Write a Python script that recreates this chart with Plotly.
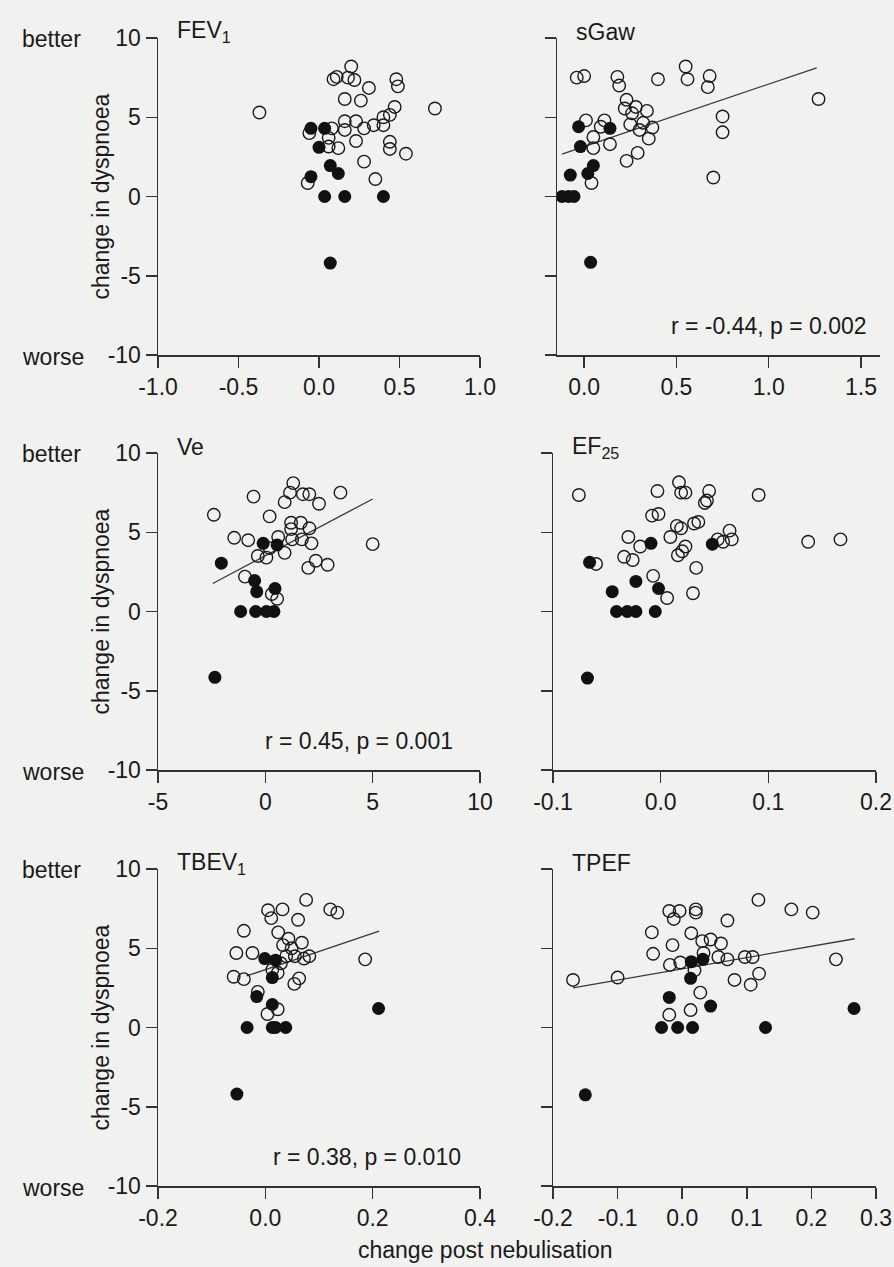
import plotly.graph_objects as go

# ---------------- data ----------------
# FEV1
fev_open_x = [-0.37, 0.20, 0.09, 0.11, 0.18, 0.22, 0.31, 0.48, 0.49, 0.16, 0.26, 0.47, 0.72, 0.44, 0.40, 0.40, 0.34,
              0.28, 0.23, 0.16, 0.16, 0.08, 0.06, 0.06, 0.12, 0.23, -0.06, 0.44, 0.44, 0.54, 0.28, 0.35, -0.07]
fev_open_y = [5.3, 8.2, 7.4, 7.55, 7.5, 7.35, 6.85, 7.4, 6.95, 6.15, 6.05, 5.65, 5.55, 5.15, 5.0, 4.5, 4.5,
              4.3, 4.75, 4.75, 4.2, 4.3, 3.7, 3.15, 3.05, 3.5, 4.0, 3.45, 3.0, 2.7, 2.2, 1.1, 0.85]
fev_fill_x = [-0.05, 0.035, 0.0, 0.07, 0.12, -0.05, 0.035, 0.16, 0.40, 0.07]
fev_fill_y = [4.3, 4.3, 3.1, 1.95, 1.45, 1.25, 0, 0, 0, -4.2]

# sGaw
sgaw_open_x = [-0.04, 0.0, 0.18, 0.19, 0.40, 0.55, 0.56, 0.68, 0.67, 1.27, 0.23, 0.22, 0.28, 0.26, 0.34, 0.01,
               0.11, 0.09, 0.25, 0.32, 0.37, 0.30, 0.35, 0.05, 0.14, 0.05, 0.29, 0.23, 0.75, 0.75, 0.70, 0.04]
sgaw_open_y = [7.5, 7.6, 7.55, 7.0, 7.4, 8.2, 7.4, 7.6, 6.9, 6.15, 6.1, 5.55, 5.65, 5.25, 5.4, 4.8,
               4.8, 4.4, 4.55, 4.65, 4.35, 4.2, 3.65, 3.75, 3.3, 3.05, 2.75, 2.25, 5.05, 4.05, 1.2, 0.85]
sgaw_fill_x = [-0.03, 0.14, -0.02, 0.05, 0.02, -0.075, -0.12, -0.085, -0.055, 0.035]
sgaw_fill_y = [4.4, 4.3, 3.15, 1.95, 1.45, 1.35, 0, 0, 0, -4.15]
sgaw_fit_x = [-0.12, 1.26]
sgaw_fit_y = [2.68, 8.12]

# Ve
ve_open_x = [-2.4, -0.55, 1.3, 1.15, 1.75, 2.05, 2.5, 0.9, 3.5, 0.2, -1.45, -0.8, 0.6, 1.2, 1.65, 2.05, 1.2,
             1.25, 1.7, 2.15, 0.2, 0.9, -0.35, 0.05, 2.35, 2.9, 2.0, 5.0, -0.95, 0.3, 0.55]
ve_open_y = [6.1, 7.25, 8.1, 7.5, 7.4, 7.4, 6.8, 6.9, 7.5, 6.0, 4.65, 4.5, 4.7, 5.6, 5.6, 5.25, 5.2,
             4.55, 4.55, 4.3, 4.0, 3.7, 3.5, 3.4, 3.2, 2.95, 2.75, 4.25, 2.2, 1.1, 0.8]
ve_fill_x = [-2.05, -0.1, 0.55, -0.5, -0.4, 0.45, -1.15, -0.45, 0.05, 0.4, -2.35]
ve_fill_y = [3.05, 4.3, 4.2, 1.95, 1.25, 1.45, 0, 0, 0, 0, -4.15]
ve_fit_x = [-2.45, 5.0]
ve_fit_y = [1.77, 7.1]

# EF25
ef_open_x = [-0.076, -0.003, 0.017, 0.019, 0.023, 0.045, 0.043, 0.041, 0.091, -0.008, -0.002, 0.015, 0.019,
             0.031, 0.035, 0.009, -0.030, -0.019, 0.023, 0.020, 0.016, 0.064, 0.066, 0.053, 0.058, 0.137,
             0.167, -0.034, -0.026, -0.060, 0.033, -0.007, 0.030, 0.006]
ef_open_y = [7.35, 7.6, 8.15, 7.5, 7.5, 7.6, 7.0, 6.85, 7.35, 6.05, 6.15, 5.4, 5.25,
             5.55, 5.65, 4.7, 4.7, 4.1, 4.1, 3.8, 3.55, 5.1, 4.55, 4.55, 4.4, 4.4,
             4.55, 3.45, 3.25, 3.0, 2.75, 2.25, 1.15, 0.85]
ef_fill_x = [-0.066, -0.009, 0.048, -0.023, -0.002, -0.045, -0.041, -0.031, -0.023, -0.005, -0.068]
ef_fill_y = [3.1, 4.3, 4.25, 1.9, 1.45, 1.25, 0, 0, 0, 0, -4.2]

# TBEV1
tb_open_x = [0.076, 0.005, 0.011, 0.032, 0.121, 0.134, 0.061, -0.040, 0.024, 0.043, 0.068, 0.033, 0.049,
             -0.054, -0.024, 0.039, 0.055, 0.082, 0.072, 0.186, 0.029, 0.013, 0.023, -0.059, -0.040, 0.063,
             0.054, -0.014, 0.023, 0.004]
tb_open_y = [8.05, 7.4, 6.9, 7.45, 7.45, 7.25, 6.8, 6.1, 6.0, 5.6, 5.35, 5.2, 5.0,
             4.7, 4.7, 4.5, 4.5, 4.5, 4.35, 4.3, 4.05, 3.65, 3.45, 3.2, 3.05, 3.1,
             2.75, 2.25, 1.15, 0.85]
tb_fill_x = [-0.001, 0.019, 0.013, -0.016, 0.013, 0.211, -0.034, 0.013, 0.019, 0.038, -0.053]
tb_fill_y = [4.35, 4.25, 3.15, 1.95, 1.45, 1.2, 0, 0, 0, 0, -4.2]
tb_fit_x = [-0.035, 0.212]
tb_fit_y = [3.25, 6.08]

# TPEF
tp_open_x = [-0.169, -0.100, 0.118, 0.169, 0.202, -0.020, -0.004, -0.013, 0.021, 0.021, 0.070, -0.047, 0.014,
             -0.015, 0.031, 0.044, 0.060, -0.045, -0.019, -0.003, 0.033, 0.056, 0.070, 0.097, 0.109, 0.019,
             0.081, 0.119, 0.106, 0.238, 0.028, -0.020, 0.013]
tp_open_y = [3.0, 3.15, 8.05, 7.45, 7.25, 7.35, 7.35, 6.85, 7.45, 7.25, 6.75, 6.0, 5.95,
             5.2, 5.45, 5.55, 5.3, 4.65, 3.95, 4.1, 4.7, 4.45, 4.3, 4.45, 4.45, 3.6,
             3.0, 3.4, 2.7, 4.3, 2.2, 0.8, 1.1]
tp_fill_x = [0.014, 0.032, 0.013, -0.020, 0.044, 0.266, -0.032, -0.007, 0.016, 0.129, -0.150]
tp_fill_y = [4.15, 4.3, 3.1, 1.9, 1.35, 1.2, 0, 0, 0, 0, -4.25]
tp_fit_x = [-0.169, 0.267]
tp_fit_y = [2.5, 5.6]

y_ticks = [-10, -5, 0, 5, 10]

# ---------------- figure ----------------
W, H = 894, 1267
FONT = "Liberation Sans, Arial, sans-serif"
FS = 23
INK = "#1a1a1a"
BG = "#f1f1f0"

def px_x(p):
    """screen pixel x -> paper fraction"""
    return p / W

def px_y(p):
    """screen pixel y -> paper fraction"""
    return 1 - p / H

panels = [
    dict(title="FEV<sub>1</sub>", ox=fev_open_x, oy=fev_open_y, fx=fev_fill_x, fy=fev_fill_y, fit=None,
         xr=[-1, 1], xt=[-1, -0.5, 0, 0.5, 1], xtt=["-1.0", "-0.5", "0.0", "0.5", "1.0"],
         dx=(158, 480), dy=(38, 355), ann=None, left=True),
    dict(title="sGaw", ox=sgaw_open_x, oy=sgaw_open_y, fx=sgaw_fill_x, fy=sgaw_fill_y, fit=(sgaw_fit_x, sgaw_fit_y),
         xr=[-0.147, 1.603], xt=[0, 0.5, 1, 1.5], xtt=["0.0", "0.5", "1.0", "1.5"],
         dx=(557, 880), dy=(38, 355), ann=("r = -0.44, p = 0.002", 1.545), left=False),
    dict(title="Ve", ox=ve_open_x, oy=ve_open_y, fx=ve_fill_x, fy=ve_fill_y, fit=(ve_fit_x, ve_fit_y),
         xr=[-5, 10], xt=[-5, 0, 5, 10], xtt=["-5", "0", "5", "10"],
         dx=(158, 480), dy=(453, 770), ann=("r = 0.45, p = 0.001", 8.85), left=True),
    dict(title="EF<sub>25</sub>", ox=ef_open_x, oy=ef_open_y, fx=ef_fill_x, fy=ef_fill_y, fit=None,
         xr=[-0.1, 0.2], xt=[-0.1, 0, 0.1, 0.2], xtt=["-0.1", "0.0", "0.1", "0.2"],
         dx=(553, 876), dy=(453, 770), ann=None, left=False),
    dict(title="TBEV<sub>1</sub>", ox=tb_open_x, oy=tb_open_y, fx=tb_fill_x, fy=tb_fill_y, fit=(tb_fit_x, tb_fit_y),
         xr=[-0.2, 0.4], xt=[-0.2, 0, 0.2, 0.4], xtt=["-0.2", "0.0", "0.2", "0.4"],
         dx=(158, 480), dy=(869, 1186), ann=("r = 0.38, p = 0.010", 0.368), left=True),
    dict(title="TPEF", ox=tp_open_x, oy=tp_open_y, fx=tp_fill_x, fy=tp_fill_y, fit=(tp_fit_x, tp_fit_y),
         xr=[-0.2, 0.3], xt=[-0.2, -0.1, 0, 0.1, 0.2, 0.3], xtt=["-0.2", "-0.1", "0.0", "0.1", "0.2", "0.3"],
         dx=(553, 876), dy=(869, 1186), ann=("r = 0.29, p = 0.049", 0.301), left=False),
]

fig = go.Figure()
annotations = []
layout = {}

for i, p in enumerate(panels, start=1):
    xa = "x" if i == 1 else f"x{i}"
    ya = "y" if i == 1 else f"y{i}"
    if p["fit"] is not None:
        fig.add_trace(go.Scatter(x=p["fit"][0], y=p["fit"][1], mode="lines", xaxis=xa, yaxis=ya,
                                 line=dict(color="#3a3a3a", width=1.3), showlegend=False, hoverinfo="skip"))
    fig.add_trace(go.Scatter(x=p["ox"], y=p["oy"], mode="markers", xaxis=xa, yaxis=ya, showlegend=False,
                             marker=dict(symbol="circle-open", size=12.5, color=INK, line=dict(width=1.4, color=INK))))
    fig.add_trace(go.Scatter(x=p["fx"], y=p["fy"], mode="markers", xaxis=xa, yaxis=ya, showlegend=False,
                             marker=dict(symbol="circle", size=13, color="#111111", line=dict(width=0))))

    xkey = "xaxis" if i == 1 else f"xaxis{i}"
    ykey = "yaxis" if i == 1 else f"yaxis{i}"
    layout[xkey] = dict(domain=[px_x(p["dx"][0]), px_x(p["dx"][1])], range=p["xr"], anchor=ya,
                        tickmode="array", tickvals=p["xt"], ticktext=p["xtt"], automargin=False,
                        ticklabeloverflow="allow",
                        showline=True, linecolor="#333333", linewidth=1.5, ticks="outside", ticklen=11,
                        tickwidth=1.5, tickcolor="#333333", showgrid=False, zeroline=False,
                        tickfont=dict(family=FONT, size=FS, color=INK), fixedrange=True)
    layout[ykey] = dict(domain=[px_y(p["dy"][1]), px_y(p["dy"][0])], range=[-10, 10], anchor=xa,
                        tickmode="array", tickvals=y_ticks, ticktext=[str(v) for v in y_ticks],
                        showticklabels=p["left"], automargin=False, ticklabeloverflow="allow",
                        showline=True, linecolor="#333333", linewidth=1.5, ticks="outside", ticklen=11,
                        tickwidth=1.5, tickcolor="#333333", showgrid=False, zeroline=False,
                        tickfont=dict(family=FONT, size=FS, color=INK), fixedrange=True)

    # panel title
    annotations.append(dict(text=p["title"], xref="paper", yref="paper",
                            x=px_x(p["dx"][0] + 17), y=px_y(p["dy"][0] - 6),
                            xanchor="left", yanchor="middle", showarrow=False,
                            font=dict(family=FONT, size=FS, color=INK)))
    if p["ann"] is not None:
        annotations.append(dict(text=p["ann"][0], xref=xa, yref=ya, x=p["ann"][1], y=-8.2,
                                xanchor="right", yanchor="middle", showarrow=False,
                                font=dict(family=FONT, size=FS, color=INK)))
    if p["left"]:
        top, bot = p["dy"]
        annotations.append(dict(text="better", xref="paper", yref="paper", x=px_x(20), y=px_y(top + 1),
                                xanchor="left", yanchor="middle", showarrow=False,
                                font=dict(family=FONT, size=FS, color=INK)))
        annotations.append(dict(text="worse", xref="paper", yref="paper", x=px_x(20), y=px_y(bot + 2),
                                xanchor="left", yanchor="middle", showarrow=False,
                                font=dict(family=FONT, size=FS, color=INK)))
        annotations.append(dict(text="change in dyspnoea", xref="paper", yref="paper", x=px_x(100),
                                y=px_y((top + bot) / 2), textangle=-90, xanchor="center", yanchor="middle",
                                showarrow=False, font=dict(family=FONT, size=FS, color=INK)))

annotations.append(dict(text="change post nebulisation", xref="paper", yref="paper", x=px_x(485), y=px_y(1250),
                        xanchor="center", yanchor="middle", showarrow=False,
                        font=dict(family=FONT, size=FS, color=INK)))

fig.update_layout(width=W, height=H, margin=dict(l=0, r=0, t=0, b=0, pad=0, autoexpand=False),
                  paper_bgcolor=BG, plot_bgcolor=BG, hovermode=False,
                  showlegend=False, annotations=annotations, **layout)

fig.write_html(
    "out.html",
    config={"displayModeBar": False, "staticPlot": True},
    post_script=("document.body.style.margin='0';document.body.style.overflow='hidden';"
                 "document.body.style.background='%s';" % BG),
)
